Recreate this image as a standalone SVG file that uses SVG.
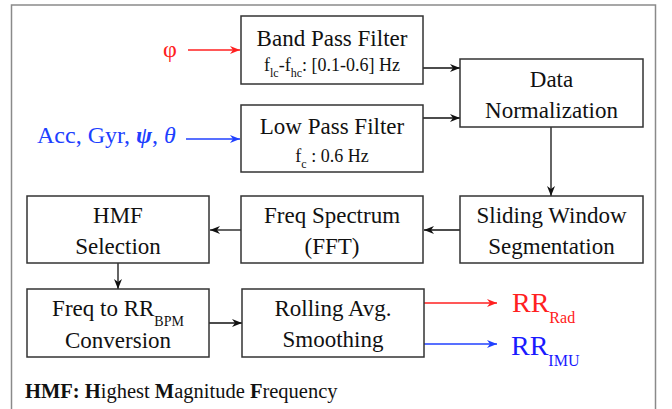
<svg xmlns="http://www.w3.org/2000/svg" width="672" height="409" viewBox="0 0 672 409">
<style>
.box{fill:#fff;stroke:#333;stroke-width:1.5}
.edge{fill:none;stroke:#111;stroke-width:1.3}
.red{fill:none;stroke:#ff2020;stroke-width:1.3}
.blue{fill:none;stroke:#2040ff;stroke-width:1.3}
</style>
<defs>
<marker id="ah" viewBox="0 0 10 8" refX="10" refY="4" markerWidth="10" markerHeight="8" markerUnits="userSpaceOnUse" orient="auto"><path d="M0,0 L10,4 L0,8 L3,4 z" fill="#111"/></marker>
<marker id="ahr" viewBox="0 0 10 8" refX="10" refY="4" markerWidth="10" markerHeight="8" markerUnits="userSpaceOnUse" orient="auto"><path d="M0,0 L10,4 L0,8 L3,4 z" fill="#ff2020"/></marker>
<marker id="ahb" viewBox="0 0 10 8" refX="10" refY="4" markerWidth="10" markerHeight="8" markerUnits="userSpaceOnUse" orient="auto"><path d="M0,0 L10,4 L0,8 L3,4 z" fill="#2040ff"/></marker>
</defs>
<rect x="0" y="0" width="672" height="409" fill="#fff"/>
<rect id="frame" x="11.5" y="5" width="644" height="420" fill="none" stroke="#8a8a8a" stroke-width="1.5"/>

<g id="connectors">
<path class="red" d="M188,50 H240" marker-end="url(#ahr)"/>
<path class="blue" d="M186,139 H240" marker-end="url(#ahb)"/>
<path class="edge" d="M423,68 H460" marker-end="url(#ah)"/>
<path class="edge" d="M423,118 H460" marker-end="url(#ah)"/>
<path class="edge" d="M551,127 V196" marker-end="url(#ah)"/>
<path class="edge" d="M460,230 H424" marker-end="url(#ah)"/>
<path class="edge" d="M241,230 H210" marker-end="url(#ah)"/>
<path class="edge" d="M118,263 V289" marker-end="url(#ah)"/>
<path class="edge" d="M209,323 H242" marker-end="url(#ah)"/>
<path class="red" d="M424,303 H497" marker-end="url(#ahr)"/>
<path class="blue" d="M424,344 H497" marker-end="url(#ahb)"/>
</g>

<g font-family="Liberation Serif, serif" fill="#111">
<g id="in-phi"><text x="163" y="57" font-size="24" fill="#ff2020">φ</text></g>
<g id="in-imu"><text x="37" y="143" font-size="24" fill="#2040ff">Acc, Gyr, <tspan font-weight="bold" font-style="italic">ψ</tspan>, <tspan font-style="italic">θ</tspan></text></g>

<g id="bpf" text-anchor="middle">
<rect class="box" x="241" y="16" width="182" height="68"/>
<text x="332" y="46" font-size="23">Band Pass Filter</text>
<text x="332" y="71" font-size="18">f<tspan font-size="12" dy="6">lc</tspan><tspan dy="-6">-f</tspan><tspan font-size="12" dy="6">hc</tspan><tspan dy="-6">: [0.1-0.6] Hz</tspan></text>
</g>

<g id="lpf" text-anchor="middle">
<rect class="box" x="241" y="105" width="182" height="67"/>
<text x="332" y="134" font-size="23">Low Pass Filter</text>
<text x="332" y="162" font-size="18">f<tspan font-size="12" dy="6">c</tspan><tspan dy="-6"> : 0.6 Hz</tspan></text>
</g>

<g id="norm" text-anchor="middle" font-size="23">
<rect class="box" x="460" y="59" width="183" height="68"/>
<text x="551.5" y="87">Data</text>
<text x="551.5" y="118">Normalization</text>
</g>

<g id="sws" text-anchor="middle" font-size="23">
<rect class="box" x="460" y="196" width="183" height="67"/>
<text x="551.5" y="223">Sliding Window</text>
<text x="551.5" y="254">Segmentation</text>
</g>

<g id="fft" text-anchor="middle" font-size="23">
<rect class="box" x="241" y="196" width="182" height="67"/>
<text x="332" y="223">Freq Spectrum</text>
<text x="332" y="254">(FFT)</text>
</g>

<g id="hmf" text-anchor="middle" font-size="23">
<rect class="box" x="27" y="196" width="182" height="67"/>
<text x="118" y="223">HMF</text>
<text x="118" y="254">Selection</text>
</g>

<g id="f2rr" text-anchor="middle" font-size="23">
<rect class="box" x="27" y="289" width="182" height="68"/>
<text x="118" y="316">Freq to RR<tspan font-size="14" dy="10">BPM</tspan></text>
<text x="118" y="348">Conversion</text>
</g>

<g id="roll" text-anchor="middle" font-size="23">
<rect class="box" x="242" y="289" width="182" height="68"/>
<text x="333" y="316">Rolling Avg.</text>
<text x="333" y="347">Smoothing</text>
</g>

<g id="out-rad"><text x="512" y="312" font-size="28" fill="#ff2020">RR<tspan font-size="16" dy="11">Rad</tspan></text></g>
<g id="out-imu"><text x="511" y="355" font-size="28" fill="#1a1aff">RR<tspan font-size="16" dy="11">IMU</tspan></text></g>

<g id="legend"><text x="25" y="398" font-size="20.5"><tspan font-weight="bold">HMF: H</tspan>ighest <tspan font-weight="bold">M</tspan>agnitude <tspan font-weight="bold">F</tspan>requency</text></g>
</g>
</svg>
